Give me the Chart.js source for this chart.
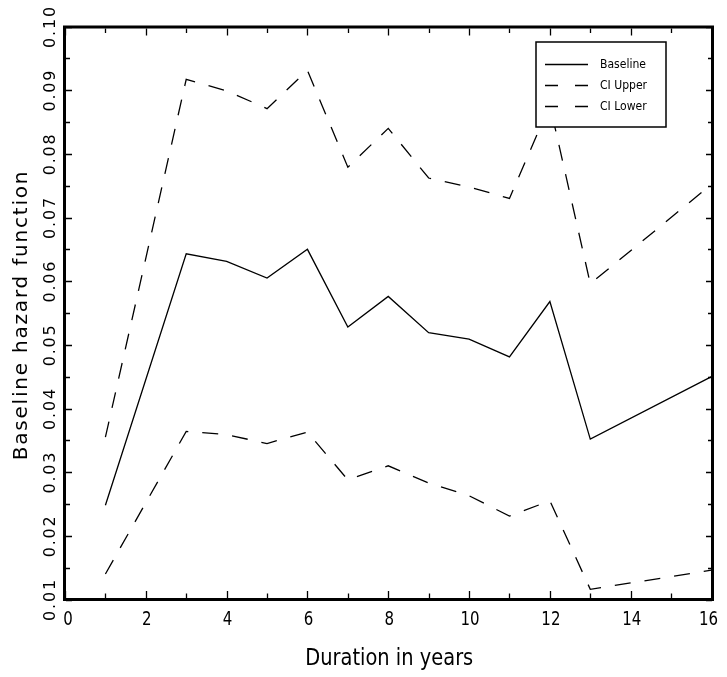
<!DOCTYPE html>
<html><head><meta charset="utf-8">
<script src="https://cdn.jsdelivr.net/npm/chart.js@4.4.0/dist/chart.umd.min.js"></script>
<style>html,body{margin:0;padding:0;background:#fff}#wrap{width:727px;height:677px}</style>
</head><body><div id="wrap"><canvas id="c" width="727" height="677"></canvas></div>
<script>
const years    = [1, 3, 4, 5, 6, 7, 8, 9, 10, 11, 12, 13, 16];
const baseline = [0.0248, 0.0643, 0.0631, 0.0605, 0.0650, 0.0528, 0.0576, 0.0519, 0.0509, 0.0481, 0.0568, 0.0352, 0.0450];
const ciUpper  = [0.0355, 0.0917, 0.0899, 0.0871, 0.0931, 0.0779, 0.0840, 0.0762, 0.0748, 0.0730, 0.0877, 0.0596, 0.0752];
const ciLower  = [0.0140, 0.0364, 0.0359, 0.0345, 0.0363, 0.0288, 0.0310, 0.0283, 0.0263, 0.0231, 0.0255, 0.0116, 0.0146];
const seriesNames = ['Baseline', 'CI Upper', 'CI Lower'];
const xTickLabels = ['0', '2', '4', '6', '8', '10', '12', '14', '16'];
const yTickLabels = ['0.01', '0.02', '0.03', '0.04', '0.05', '0.06', '0.07', '0.08', '0.09', '0.10'];
const xTitle = 'Duration in years';
const yTitle = 'Baseline hazard function';

function pts(ys) { return years.map((x, i) => ({ x: x, y: ys[i] })); }

function narrowText(ctx, text, x, y, sx) {
  ctx.save();
  ctx.translate(x, y);
  ctx.scale(sx, 1);
  ctx.fillText(text, 0, 0);
  ctx.restore();
}

const DASH = [16, 14];
const framePlugin = {
  id: 'frame',
  afterDraw(chart) {
    const ctx = chart.ctx, a = chart.chartArea;
    const xs = chart.scales.x, ys = chart.scales.y;
    ctx.save();
    ctx.strokeStyle = '#000';
    ctx.fillStyle = '#000';
    // frame
    ctx.lineWidth = 3;
    ctx.strokeRect(a.left - 0.5, a.top + 0.5, a.right - a.left + 1.5, a.bottom - a.top - 0.5);
    // ticks
    ctx.lineWidth = 1.3;
    const xMajor = xTickLabels.map(Number);
    const xMin = xMajor[0], xMax = xMajor[xMajor.length - 1];
    for (let v = xMin; v <= xMax; v += 1) {
      const px = Math.round(xs.getPixelForValue(v)) + 0.5;
      const len = xMajor.includes(v) ? 7 : 4.5;
      ctx.beginPath();
      ctx.moveTo(px, a.bottom - 1.5); ctx.lineTo(px, a.bottom - 1.5 - len);
      ctx.moveTo(px, a.top + 2); ctx.lineTo(px, a.top + 2 + len);
      ctx.stroke();
    }
    const yMajor = yTickLabels.map(Number);
    for (let i = 0; i < yMajor.length; i++) {
      const vals = [yMajor[i]];
      if (i < yMajor.length - 1) vals.push((yMajor[i] + yMajor[i + 1]) / 2);
      vals.forEach((v, k) => {
        const py = Math.round(ys.getPixelForValue(v)) + 0.5;
        const len = k === 0 ? 6 : 4;
        ctx.beginPath();
        ctx.moveTo(a.left + 1, py); ctx.lineTo(a.left + 1 + len, py);
        ctx.moveTo(a.right + 0.5, py); ctx.lineTo(a.right + 0.5 - len, py);
        ctx.stroke();
      });
    }
    // x tick labels (narrow)
    ctx.font = "20px 'DejaVu Sans', sans-serif";
    ctx.textAlign = 'center';
    ctx.textBaseline = 'middle';
    xTickLabels.forEach((l, i) => {
      let px = xs.getPixelForValue(Number(l)) + 1;
      if (i === 0) px += 2;
      if (i === xTickLabels.length - 1) px -= 4;
      narrowText(ctx, l, px, 620, 0.75);
    });
    // x title
    ctx.font = "23px 'DejaVu Sans', sans-serif";
    const tw = ctx.measureText(xTitle).width;
    narrowText(ctx, xTitle, (a.left + a.right) / 2 + 1, 659, 168 / tw);
    // y tick labels (rotated)
    ctx.font = "16px 'DejaVu Sans', sans-serif";
    ctx.letterSpacing = '1.8px';
    yTickLabels.forEach(l => {
      const py = ys.getPixelForValue(Number(l));
      ctx.save();
      ctx.translate(51, py);
      ctx.rotate(-Math.PI / 2);
      ctx.fillText(l, 0, 0);
      ctx.restore();
    });
    // y title
    ctx.font = "20px 'DejaVu Sans', sans-serif";
    ctx.letterSpacing = '1.8px';
    ctx.save();
    ctx.translate(22, (a.top + a.bottom) / 2 + 2);
    ctx.rotate(-Math.PI / 2);
    ctx.fillText(yTitle, 0, 0);
    ctx.restore();
    ctx.letterSpacing = '0px';
    // legend
    const bx = 536, by = 42, bw = 130, bh = 85;
    ctx.fillStyle = '#fff';
    ctx.fillRect(bx, by, bw, bh);
    ctx.lineWidth = 1.5;
    ctx.strokeStyle = '#000';
    ctx.strokeRect(bx, by, bw, bh);
    ctx.fillStyle = '#000';
    ctx.font = "13px 'DejaVu Sans', sans-serif";
    ctx.textAlign = 'left';
    const lsx = 46 / ctx.measureText(seriesNames[0]).width;
    chart.data.datasets.forEach((ds, i) => {
      const ly = 64 + i * 21;
      ctx.lineWidth = 1.3;
      ctx.setLineDash(ds.borderDash && ds.borderDash.length ? [13, 17] : []);
      ctx.beginPath();
      ctx.moveTo(545, ly + 0.5); ctx.lineTo(588, ly + 0.5);
      ctx.stroke();
      ctx.setLineDash([]);
      narrowText(ctx, ds.label, 600, ly + 1, lsx);
    });
    ctx.restore();
  }
};

new Chart(document.getElementById('c'), {
  type: 'line',
  data: {
    datasets: [
      { label: seriesNames[0], data: pts(baseline), borderColor: '#000', borderWidth: 1.3, pointRadius: 0, tension: 0, fill: false },
      { label: seriesNames[1], data: pts(ciUpper), borderColor: '#000', borderWidth: 1.3, borderDash: DASH, pointRadius: 0, tension: 0, fill: false },
      { label: seriesNames[2], data: pts(ciLower), borderColor: '#000', borderWidth: 1.3, borderDash: DASH, pointRadius: 0, tension: 0, fill: false }
    ]
  },
  options: {
    responsive: false,
    animation: false,
    devicePixelRatio: 1,
    layout: { padding: { left: 65, right: 15.5, top: 26.5, bottom: 77.5 } },
    plugins: { legend: { display: false }, tooltip: { enabled: false } },
    scales: {
      x: { type: 'linear', min: 0, max: 16, display: false },
      y: { type: 'linear', min: 0.01, max: 0.10, display: false }
    }
  },
  plugins: [framePlugin]
});
</script>
</body></html>
